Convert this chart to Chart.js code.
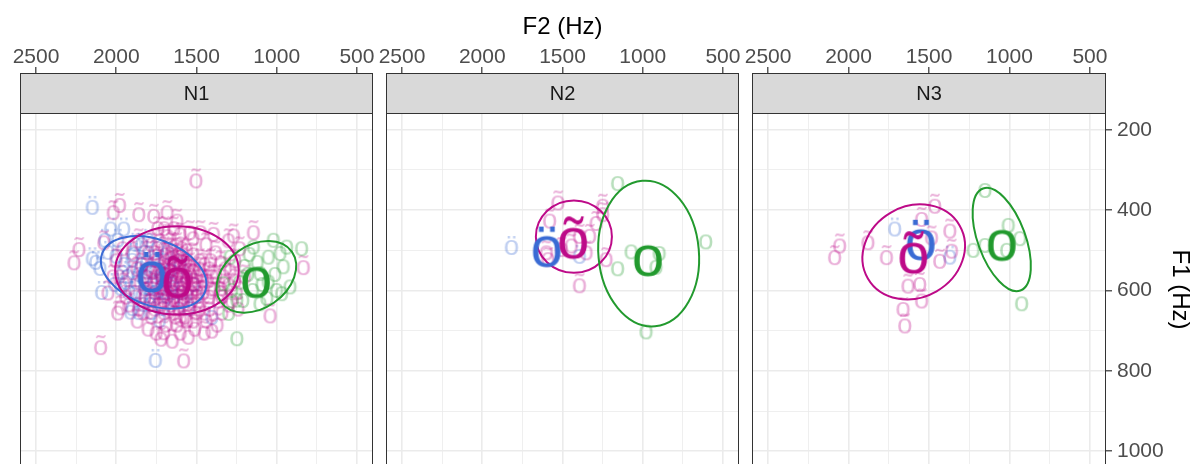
<!DOCTYPE html>
<html>
<head>
<meta charset="utf-8">
<script src="https://cdn.jsdelivr.net/npm/chart.js@4.4.1/dist/chart.umd.min.js"></script>
<style>
  html, body { margin: 0; padding: 0; background: #fff; }
  body { width: 1200px; height: 464px; overflow: hidden; position: relative; }
  canvas { position: absolute; top: 0; }
</style>
</head>
<body>
<script>
// ─────────────────────────────────────────────
//  DATA  (F2 Hz, F1 Hz)
// ─────────────────────────────────────────────
const PANEL_NAMES = ['N1', 'N2', 'N3'];
const VOWELS = ['ö', 'õ', 'o'];
const VOWEL_COLORS = ['#3a6bd4', '#bd0a88', '#229a2e'];

const X_BREAKS = [2500, 2000, 1500, 1000, 500];
const X_MINOR = [2250, 1750, 1250, 750];
const Y_BREAKS = [200, 400, 600, 800, 1000];
const Y_MINOR = [100, 300, 500, 700, 900];
const X_RANGE = [400, 2600];
const Y_RANGE = [58.7, 1036.8];

// N1
const n1_oe = [
  [1780,550],[1850,540],[1720,565],[1900,520],[1650,580],[1800,590],[1950,530],[1700,520],[1760,600],[1870,575],
  [2000,510],[1820,500],[1680,610],[1600,600],[1930,560],[1740,490],[1880,480],[2050,500],[1580,620],[1790,630],
  [1660,545],[1840,610],[1710,640],[1550,640],[1990,470],[1920,600],[1620,560],[1860,650],[1760,520],[1690,575],
  [2070,470],[1970,590],[1500,610],[1800,470],[1730,670],
  [1820,560],[1750,540],[1880,600],[1960,550],[2010,580],[1840,480],[1700,600],[1640,620],[1780,650],[1900,640],
  [2100,540],[2090,600],[1680,500],[1600,530],[1520,580],
  [1810,525],[1770,575],[1730,595],[1860,555],[1890,505],[1940,575],[1700,555],[1650,600],[1790,610],[1830,630],
  [2148,388],[2127,525],[1755,769],[2034,442],[1952,442],[1910,649],[1403,662],[2148,516]
];
const n1_otilde = [
  [1502,321],[1978,382],[2017,400],[1858,405],[1765,409],[1682,400],[1620,421],[2262,525],[2231,492],[2096,736],
  [1579,769],[1475,450],[1393,454],[1268,458],[1144,450],[833,537],[1040,657],[1403,695],[1703,699],[1868,670],
  [1972,637],[2076,475],
  [1650,560],[1600,575],[1700,540],[1550,590],[1750,560],[1620,520],[1680,600],[1580,545],[1720,585],[1500,560],
  [1800,540],[1640,610],[1560,520],[1690,505],[1610,640],[1530,620],[1760,615],[1470,585],[1850,575],[1400,560],
  [1660,480],[1590,490],[1730,470],[1520,505],[1800,500],[1450,530],[1900,550],[1350,590],[1630,660],[1700,650],
  [1560,670],[1480,640],[1780,660],[1420,610],[1880,610],[1950,580],[1320,540],[1380,500],[1740,520],[1670,530],
  [1540,555],[1610,590],[1710,565],[1490,600],[1640,540],[1580,610],[1820,590],[1360,620],[1440,670],[1510,690],
  [1600,700],[1690,680],[1750,700],[1830,650],[1920,630],[1980,560],[2000,520],[1960,490],[1860,470],[1780,480],
  [1600,455],[1520,465],[1440,480],[1300,580],[1280,620],[1340,650],[1260,520],[1230,490],[1200,560],[1250,600],
  [1570,535],[1630,575],[1680,555],[1720,600],[1540,640],[1470,555],[1620,620],[1660,630],[1770,590],[1840,530],
  [1560,570],[1650,595],[1590,555],[1700,525],[1520,545],[1610,505],[1730,545],[1480,520],[1560,605],[1810,560],
  [1390,590],[1420,540],[1350,525],[1680,460],[1740,440],[1640,440],[1540,450],[1860,640],[1900,500],[1300,470],
  [1350,600],[1300,630],[1420,640],
  [1660,570],[1610,550],[1690,590],[1580,580],[1640,525],[1720,555],[1550,545],[1600,620],[1670,645],[1740,630],
  [1510,580],[1460,600],[1430,570],[1500,650],[1570,660],[1620,680],[1790,620],[1830,560],[1870,540],[1760,500],
  [1700,490],[1620,480],[1560,495],[1480,540],[1410,520],[1330,560],[1290,545],[1260,570],[1240,640],[1370,680],
  [1450,700],[1550,710],[1650,720],[1720,715],[1800,690],[1940,610],[2020,560],[2050,600],[1990,650],[1700,440],
  [1640,585],[1590,600],[1670,545],[1710,610],[1560,560],[1530,600],[1620,535],[1690,565],[1750,580],[1600,510],
  [1660,515],[1500,590],[1460,570],[1580,630],[1640,650],[1720,630],[1780,545],[1540,530],[1490,620],[1410,590],
  [1380,560],[1340,610],[1450,650],[1520,670],[1600,665],[1700,620],[1760,640],[1820,610],[1650,495],[1580,515]
];
const n1_o = [
  [1247,720],[937,492],[844,496],[978,508],[1051,517],[958,541],[1103,558],[968,608],[1103,633],[1247,624],
  [1330,583],[1289,517],[1144,492],[1020,475],[1299,657],[916,591],[1051,579],
  [1180,560],[1150,600],[1200,540],[1090,585],[1010,560],[1230,580],[1120,530],[1060,620],[1170,510],[1000,600],
  [1280,600],[1210,625]
];
const n1_centroids = [[1781,555],[1620,567],[1129,580]];
// ellipse: centre F2, F1, semi-axis u (dF2, dF1), semi-axis v (dF2, dF1)
const n1_ellipses = [[1767,555,-321,47,70,77],[1622,550,-385,0,0,110],[1127,566,-222,-62,-111,64]];

// N2
const n2_oe = [[1817,488],[1393,510]];
const n2_otilde = [
  [1527,376],[1579,421],[1599,500],[1589,517],[1393,582],[1248,384],[1289,427],[1330,459],[1393,459],[1444,483],
  [1227,517],[1351,500],[1506,492],[1248,405]
];
const n2_o = [[1155,334],[606,479],[1071,504],[1155,546],[896,508],[916,542],[978,703]];
const n2_centroids = [[1599,492],[1434,469],[968,526]];
const n2_ellipses = [null,[1429,466,-237,0,0,90],[963,508,-40,181,312,11]];

// N3
const n3_oe = [[1712,442],[1369,512]];
const n3_otilde = [
  [2054,483],[2085,512],[1878,475],[1763,512],[1463,384],[1545,417],[1369,446],[1483,463],[1359,496],[1432,521],
  [1629,583],[1556,579],[1545,620],[1660,641],[1649,682]
];
const n3_o = [[1151,351],[1224,500],[1151,488],[1006,438],[934,471],[1016,500],[923,633]];
const n3_centroids = [[1552,475],[1598,506],[1048,488]];
const n3_ellipses = [null,[1595,504,-285,-66,-142,98],[1048,473,-116,127,139,20]];

// ─────────────────────────────────────────────
//  LAYOUT
// ─────────────────────────────────────────────
const FONT = '"Liberation Sans", Arial, sans-serif';
const PANEL_LEFT = [20, 386, 752];
const PANEL_W = [353, 353, 354];
const AXIS_TOP = 73;
const STRIP_H = 40;
const CANVAS_H = 466;
const SMALL = 28, BIG = 58;

function hexA(hex, a) {
  const n = parseInt(hex.slice(1), 16);
  return `rgba(${n >> 16},${(n >> 8) & 255},${n & 255},${a})`;
}

// glyph image, ink box centred on the point
function glyph(ch, color, size) {
  const c = document.createElement('canvas');
  let g = c.getContext('2d');
  g.font = `${size}px ${FONT}`;
  const m = g.measureText(ch);
  const w = Math.ceil(m.actualBoundingBoxLeft + m.actualBoundingBoxRight) + 4;
  const h = Math.ceil(m.actualBoundingBoxAscent + m.actualBoundingBoxDescent) + 4;
  c.width = w; c.height = h;
  g = c.getContext('2d');
  g.font = `${size}px ${FONT}`;
  g.fillStyle = color;
  g.textBaseline = 'alphabetic';
  g.fillText(ch, 2 + m.actualBoundingBoxLeft, 2 + m.actualBoundingBoxAscent);
  return c;
}

function facetPlugin(name, ellipses, isLast) {
  return {
    id: 'facet' + name,
    beforeDatasetDraw(chart, args) {
      if (args.index !== 0) return;
      const { ctx, scales: { x, y } } = chart;
      ellipses.forEach((e, k) => {
        if (!e) return;
        const cx = x.getPixelForValue(e[0]), cy = y.getPixelForValue(e[1]);
        const ux = x.getPixelForValue(e[0] + e[2]) - cx, uy = y.getPixelForValue(e[1] + e[3]) - cy;
        const vx = x.getPixelForValue(e[0] + e[4]) - cx, vy = y.getPixelForValue(e[1] + e[5]) - cy;
        ctx.save();
        ctx.beginPath();
        ctx.save();
        ctx.transform(ux, uy, vx, vy, cx, cy);
        ctx.arc(0, 0, 1, 0, Math.PI * 2);
        ctx.restore();
        ctx.strokeStyle = VOWEL_COLORS[k];
        ctx.lineWidth = 2;
        ctx.stroke();
        ctx.restore();
      });
    },
    afterDatasetsDraw(chart) {
      const { ctx, chartArea: a } = chart;
      ctx.save();
      ctx.fillStyle = '#d9d9d9';
      ctx.fillRect(a.left, a.top, a.right - a.left, STRIP_H);
      ctx.strokeStyle = '#333333';
      ctx.lineWidth = 1;
      ctx.strokeRect(a.left + 0.5, a.top + 0.5, a.right - a.left - 1, STRIP_H);
      ctx.strokeRect(a.left + 0.5, a.top + STRIP_H + 0.5, a.right - a.left - 1, a.bottom - a.top - STRIP_H + 4);
      ctx.fillStyle = '#1a1a1a';
      ctx.font = `20px ${FONT}`;
      ctx.textAlign = 'center';
      ctx.textBaseline = 'middle';
      ctx.fillText(name, (a.left + a.right) / 2, a.top + STRIP_H / 2 + 1);
      if (isLast) {
        ctx.translate(chart.width - 20, (a.top + STRIP_H + a.bottom) / 2);
        ctx.rotate(Math.PI / 2);
        ctx.fillStyle = '#000';
        ctx.font = `24px ${FONT}`;
        ctx.fillText('F1 (Hz)', 0, 0);
      }
      ctx.restore();
    }
  };
}

function makePanel(i, pts, centroids, ellipses) {
  const isLast = i === 2;
  const padL = 20, padR = isLast ? 0 : 20, yW = isLast ? 94 : 0;
  const canvas = document.createElement('canvas');
  canvas.width = PANEL_W[i] + padL + padR + yW;
  canvas.height = CANVAS_H;
  canvas.style.left = (PANEL_LEFT[i] - padL) + 'px';
  document.body.appendChild(canvas);

  const datasets = [{
    data: centroids.map(p => ({ x: p[0], y: p[1] })),
    pointStyle: VOWELS.map((v, k) => glyph(v, VOWEL_COLORS[k], BIG)),
    order: 0
  }];
  [2, 1, 0].forEach(k => datasets.push({
    data: pts[k].map(p => ({ x: p[0], y: p[1] })),
    pointStyle: glyph(VOWELS[k], hexA(VOWEL_COLORS[k], 0.32), SMALL),
    order: 1
  }));
  datasets.forEach(d => { d.pointRadius = 0.5; d.pointBorderWidth = 0; d.borderWidth = 0; });

  const xTicks = [...X_BREAKS, ...X_MINOR].sort((a, b) => a - b);
  const yTicks = [...Y_BREAKS, ...Y_MINOR].sort((a, b) => a - b);

  return new Chart(canvas.getContext('2d'), {
    type: 'scatter',
    data: { datasets },
    options: {
      responsive: false,
      animation: false,
      events: [],
      layout: { autoPadding: false, padding: { left: padL, right: padR, top: 0, bottom: 0 } },
      plugins: { legend: { display: false }, tooltip: { enabled: false } },
      scales: {
        x: {
          type: 'linear', position: 'top', reverse: true,
          min: X_RANGE[0], max: X_RANGE[1],
          afterBuildTicks: s => { s.ticks = xTicks.map(v => ({ value: v })); },
          afterFit: s => { s.height = AXIS_TOP; s.paddingLeft = 0; s.paddingRight = 0; },
          border: { display: false },
          grid: {
            color: '#ebebeb',
            lineWidth: c => X_BREAKS.includes(c.tick.value) ? 1.6 : 0.8,
            tickColor: c => X_BREAKS.includes(c.tick.value) ? '#333333' : 'rgba(0,0,0,0)',
            tickWidth: 1.2, tickLength: 6
          },
          ticks: {
            autoSkip: false, maxRotation: 0, padding: -2.5, color: '#4d4d4d',
            font: { family: FONT, size: 21 },
            callback: v => X_BREAKS.includes(v) ? String(v) : ''
          },
          title: {
            display: i === 1, text: 'F2 (Hz)', color: '#000',
            font: { family: FONT, size: 24 }, padding: { top: 13, bottom: 0 }
          }
        },
        y: {
          type: 'linear', position: 'right', reverse: true,
          min: Y_RANGE[0], max: Y_RANGE[1],
          afterBuildTicks: s => { s.ticks = yTicks.map(v => ({ value: v })); },
          afterFit: s => { s.width = yW; s.paddingTop = 0; s.paddingBottom = 0; },
          border: { display: false },
          grid: {
            color: '#ebebeb',
            lineWidth: c => Y_BREAKS.includes(c.tick.value) ? 1.6 : 0.8,
            tickColor: c => Y_BREAKS.includes(c.tick.value) ? '#333333' : 'rgba(0,0,0,0)',
            tickWidth: 1.2, tickLength: 6, drawTicks: isLast
          },
          ticks: {
            display: isLast, autoSkip: false, padding: 5, color: '#4d4d4d',
            font: { family: FONT, size: 21 },
            callback: v => Y_BREAKS.includes(v) ? String(v) : ''
          }
        }
      }
    },
    plugins: [facetPlugin(PANEL_NAMES[i], ellipses, isLast)]
  });
}

makePanel(0, [n1_oe, n1_otilde, n1_o], n1_centroids, n1_ellipses);
makePanel(1, [n2_oe, n2_otilde, n2_o], n2_centroids, n2_ellipses);
makePanel(2, [n3_oe, n3_otilde, n3_o], n3_centroids, n3_ellipses);
</script>
</body>
</html>
